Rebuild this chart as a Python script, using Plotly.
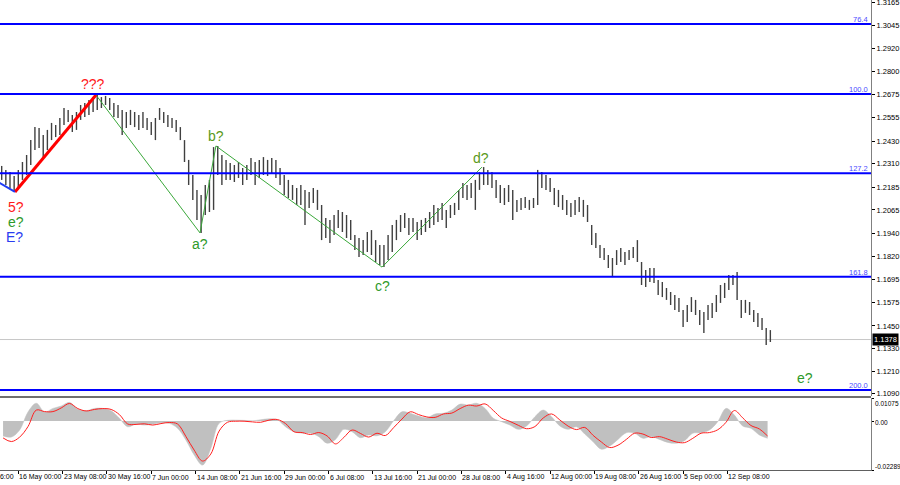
import plotly.graph_objects as go

# ---------------- data ----------------
# x unit = H4 bar index, 0 = "16 May 00:00"; price bars sampled every 3 H4 bars
bar_start = -12
bar_step = 3
bar_high = [1.2298, 1.2277, 1.2266, 1.2245, 1.2277, 1.2319, 1.2356, 1.2435, 1.2504, 1.2499,
            1.2462, 1.2489, 1.2526, 1.2515, 1.2552, 1.2605, 1.2595, 1.2568, 1.2584, 1.2621,
            1.2632, 1.2648, 1.2663, 1.2674, 1.2663, 1.2669, 1.2658, 1.2632, 1.2621, 1.2595,
            1.2584, 1.2595, 1.2584, 1.2568, 1.2584, 1.2552, 1.2531, 1.2552, 1.2605, 1.2584,
            1.2568, 1.2552, 1.2542, 1.2504, 1.2435, 1.2330, 1.2250, 1.2171, 1.2144, 1.2197,
            1.2224, 1.2398, 1.2404, 1.2356, 1.2330, 1.2314, 1.2303, 1.2319, 1.2287, 1.2303,
            1.2340, 1.2319, 1.2330, 1.2345, 1.2330, 1.2340, 1.2330, 1.2287, 1.2250, 1.2224,
            1.2197, 1.2181, 1.2197, 1.2171, 1.2160, 1.2181, 1.2171, 1.2091, 1.2022, 1.2012,
            1.2038, 1.2065, 1.2054, 1.2038, 1.2012, 1.1932, 1.1916, 1.1905, 1.1948, 1.1958,
            1.1905, 1.1879, 1.1879, 1.1932, 1.1985, 1.2012, 1.2038, 1.2049, 1.2022, 1.2022,
            1.2001, 1.2012, 1.2022, 1.2054, 1.2091, 1.2075, 1.2102, 1.2065, 1.2091, 1.2102,
            1.2171, 1.2208, 1.2197, 1.2208, 1.2224, 1.2266, 1.2292, 1.2277, 1.2266, 1.2224,
            1.2197, 1.2181, 1.2197, 1.2171, 1.2118, 1.2128, 1.2133, 1.2118, 1.2128, 1.2277,
            1.2266, 1.2250, 1.2234, 1.2181, 1.2171, 1.2144, 1.2118, 1.2102, 1.2118, 1.2133,
            1.2118, 1.2091, 1.1985, 1.1943, 1.1879, 1.1863, 1.1826, 1.1810, 1.1852, 1.1863,
            1.1842, 1.1852, 1.1868, 1.1905, 1.1789, 1.1747, 1.1757, 1.1757, 1.1693, 1.1683,
            1.1651, 1.1630, 1.1614, 1.1598, 1.1535, 1.1561, 1.1603, 1.1588, 1.1535, 1.1524,
            1.1561, 1.1572, 1.1614, 1.1667, 1.1678, 1.1720, 1.1720, 1.1736, 1.1588, 1.1588,
            1.1577, 1.1535, 1.1519, 1.1492, 1.1439, 1.1428]
bar_low = [1.2224, 1.2197, 1.2181, 1.2160, 1.2181, 1.2224, 1.2250, 1.2303, 1.2382, 1.2393,
           1.2345, 1.2382, 1.2435, 1.2451, 1.2462, 1.2515, 1.2531, 1.2478, 1.2489, 1.2542,
           1.2557, 1.2568, 1.2584, 1.2595, 1.2605, 1.2621, 1.2595, 1.2557, 1.2552, 1.2462,
           1.2499, 1.2515, 1.2504, 1.2489, 1.2499, 1.2489, 1.2462, 1.2435, 1.2542, 1.2526,
           1.2504, 1.2499, 1.2478, 1.2435, 1.2319, 1.2197, 1.2118, 1.2012, 1.1943, 1.2038,
           1.2054, 1.2065, 1.2250, 1.2197, 1.2224, 1.2224, 1.2213, 1.2234, 1.2197, 1.2224,
           1.2250, 1.2197, 1.2234, 1.2250, 1.2245, 1.2255, 1.2234, 1.2197, 1.2144, 1.2128,
           1.2118, 1.2091, 1.2091, 1.1985, 1.2075, 1.2102, 1.2065, 1.1905, 1.1916, 1.1890,
           1.1932, 1.1969, 1.1948, 1.1916, 1.1905, 1.1852, 1.1815, 1.1826, 1.1842, 1.1826,
           1.1789, 1.1773, 1.1762, 1.1800, 1.1842, 1.1905, 1.1948, 1.1969, 1.1932, 1.1948,
           1.1905, 1.1932, 1.1948, 1.1969, 1.1985, 1.2001, 1.2012, 1.1969, 1.2022, 1.2038,
           1.2065, 1.2128, 1.2118, 1.2128, 1.2065, 1.2171, 1.2197, 1.2197, 1.2181, 1.2128,
           1.2102, 1.2091, 1.2107, 1.2012, 1.2054, 1.2065, 1.2075, 1.2065, 1.2075, 1.2091,
           1.2181, 1.2171, 1.2160, 1.2091, 1.2080, 1.2065, 1.2038, 1.2028, 1.2038, 1.2054,
           1.2028, 1.2001, 1.1879, 1.1863, 1.1810, 1.1800, 1.1757, 1.1709, 1.1773, 1.1789,
           1.1773, 1.1800, 1.1810, 1.1789, 1.1667, 1.1656, 1.1683, 1.1678, 1.1614, 1.1603,
           1.1588, 1.1561, 1.1535, 1.1524, 1.1444, 1.1471, 1.1524, 1.1508, 1.1455, 1.1413,
           1.1482, 1.1492, 1.1524, 1.1572, 1.1598, 1.1640, 1.1667, 1.1588, 1.1492, 1.1519,
           1.1508, 1.1471, 1.1444, 1.1428, 1.1349, 1.1365]

# MACD, sampled every 6 H4 bars
macd_start = -11
macd_step = 6
macd_hist = [-0.0070, -0.0075, -0.0042, 0.0042, 0.0083, 0.0042, 0.0059, 0.0070, 0.0087, 0.0055,
             0.0048, 0.0059, 0.0059, 0.0048, 0.0013, -0.0027, -0.0014, -0.0019, -0.0015, -0.0008,
             -0.0011, -0.0034, -0.0089, -0.0159, -0.0206, -0.0128, -0.0011, 0.0003, 0.0004, 0.0003,
             0.0001, 0.0006, 0.0010, 0.0006, -0.0027, -0.0050, -0.0057, -0.0057, -0.0073, -0.0104,
             -0.0086, -0.0039, -0.0050, -0.0078, -0.0065, -0.0069, -0.0050, 0.0001, 0.0043, 0.0036,
             0.0023, 0.0015, 0.0033, 0.0036, 0.0051, 0.0079, 0.0075, 0.0083, 0.0059, 0.0013,
             -0.0003, -0.0019, -0.0039, -0.0023, 0.0020, 0.0051, 0.0020, -0.0023, -0.0039, -0.0027,
             -0.0061, -0.0097, -0.0132, -0.0117, -0.0086, -0.0055, -0.0057, -0.0081, -0.0073, -0.0086,
             -0.0100, -0.0104, -0.0092, -0.0057, -0.0055, -0.0042, -0.0003, 0.0059, 0.0028, -0.0023,
             -0.0034, -0.0065, -0.0081]
macd_signal = [-0.0079, -0.0096, -0.0075, -0.0026, 0.0051, 0.0044, 0.0044, 0.0061, 0.0082, 0.0058,
               0.0047, 0.0054, 0.0058, 0.0054, 0.0030, -0.0014, -0.0016, -0.0013, -0.0019, -0.0012,
               -0.0007, -0.0014, -0.0072, -0.0136, -0.0187, -0.0154, -0.0047, -0.0006, -0.0001, -0.0001,
               -0.0004, -0.0006, 0.0004, 0.0007, -0.0012, -0.0050, -0.0054, -0.0063, -0.0054, -0.0070,
               -0.0107, -0.0077, -0.0042, -0.0058, -0.0075, -0.0057, -0.0068, -0.0031, 0.0009, 0.0043,
               0.0030, 0.0019, 0.0017, 0.0033, 0.0037, 0.0058, 0.0074, 0.0070, 0.0080, 0.0049,
               0.0014, -0.0002, -0.0020, -0.0036, -0.0026, 0.0014, 0.0033, 0.0005, -0.0024, -0.0040,
               -0.0030, -0.0067, -0.0098, -0.0124, -0.0113, -0.0086, -0.0057, -0.0061, -0.0077, -0.0073,
               -0.0085, -0.0098, -0.0101, -0.0081, -0.0057, -0.0054, -0.0041, -0.0006, 0.0049, 0.0015,
               -0.0021, -0.0037, -0.0070]

fib_labels = ["76.4", "100.0", "127.2", "161.8", "200.0"]
fib_prices = [1.3050, 1.2679, 1.2259, 1.1711, 1.1111]

last_price = 1.1378

price_ticks = [1.3165, 1.3045, 1.2920, 1.2800, 1.2675, 1.2555, 1.2430, 1.2310, 1.2185,
               1.2065, 1.1940, 1.1820, 1.1695, 1.1575, 1.1450, 1.1330, 1.1210, 1.1090]
macd_ticks = [0.01075, 0.0, -0.02289]
macd_tick_labels = ["0.01075", "0.00", "-0.02289"]

time_tick_bars = [-32, 0, 32, 64, 96, 128, 160, 192, 224, 256, 288, 320, 352, 384, 416, 448, 480, 512]
time_tick_labels = ["9 May 16:00", "16 May 00:00", "23 May 08:00", "30 May 16:00", "7 Jun 00:00",
                    "14 Jun 08:00", "21 Jun 16:00", "29 Jun 00:00", "6 Jul 08:00", "13 Jul 16:00",
                    "21 Jul 00:00", "28 Jul 08:00", "4 Aug 16:00", "12 Aug 00:00", "19 Aug 08:00",
                    "26 Aug 16:00", "5 Sep 00:00", "12 Sep 08:00"]

# wave pivots (bar index, price)
wave_blue_x = [-20, -2.4]
wave_blue_y = [1.2237, 1.2160]
wave_red_x = [-2.4, 56.1]
wave_red_y = [1.2160, 1.2674]
wave_green_x = [56.1, 131.2, 142.7, 262.6, 334.8]
wave_green_y = [1.2674, 1.1943, 1.2404, 1.1762, 1.2292]

wave_labels = ["???", "5?", "e?", "E?", "a?", "b?", "c?", "d?", "e?"]
wave_label_x = [53.9, -1.7, -1.7, -2.4, 131.2, 142.7, 263.3, 334.1, 568.0]
wave_label_y = [1.2732, 1.2080, 1.2001, 1.1921, 1.1884, 1.2457, 1.1662, 1.2340, 1.1174]
wave_label_colors = ["#ff1a1a", "#ff1a1a", "#2f9a2a", "#2a3cf0", "#2f9a2a", "#5a9a1a",
                     "#2f9a2a", "#5a9a1a", "#2f9a2a"]

# ---------------- figure ----------------
W, H = 900, 485
X_RANGE = [-13.21, 615.67]
XDOM = [0, 871 / W]
MAIN_DOM = [1 - 396 / H, 1]
MACD_DOM = [1 - 470 / H, 1 - 398 / H]
FONT = "Liberation Sans, Arial, sans-serif"


def bar_to_paper(b):
    return XDOM[0] + (b - X_RANGE[0]) / (X_RANGE[1] - X_RANGE[0]) * (XDOM[1] - XDOM[0])


fig = go.Figure()

# price bars (vertical high-low strokes)
bx, by = [], []
for k, (h, l) in enumerate(zip(bar_high, bar_low)):
    xi = bar_start + bar_step * k
    bx += [xi, xi, None]
    by += [l, h, None]
fig.add_trace(go.Scatter(x=bx, y=by, mode="lines", line=dict(color="#404040", width=1.4),
                         hoverinfo="skip", showlegend=False, xaxis="x", yaxis="y"))

# wave lines
fig.add_trace(go.Scatter(x=wave_green_x, y=wave_green_y, mode="lines",
                         line=dict(color="#3aa83a", width=1), showlegend=False))
fig.add_trace(go.Scatter(x=wave_red_x, y=wave_red_y, mode="lines",
                         line=dict(color="#ff0000", width=3), showlegend=False))
fig.add_trace(go.Scatter(x=wave_blue_x, y=wave_blue_y, mode="lines",
                         line=dict(color="#1f3cf5", width=2), showlegend=False))

# MACD
macd_x = [macd_start + macd_step * n for n in range(len(macd_hist))]
fig.add_trace(go.Scatter(x=macd_x, y=macd_hist, mode="lines", fill="tozeroy", fillcolor="#c0c0c0",
                         line=dict(color="#c0c0c0", width=0.5, shape="spline"),
                         showlegend=False, xaxis="x2", yaxis="y2"))
fig.add_trace(go.Scatter(x=macd_x, y=macd_signal, mode="lines", line=dict(color="#ff2020", width=1, shape="spline"),
                         showlegend=False, xaxis="x2", yaxis="y2"))

shapes = []
# fib lines
for p in fib_prices:
    shapes.append(dict(type="line", xref="paper", yref="y", x0=0, x1=XDOM[1], y0=p, y1=p,
                       line=dict(color="#0000ff", width=2)))
# last price line
shapes.append(dict(type="line", xref="paper", yref="y", x0=0, x1=XDOM[1], y0=last_price, y1=last_price,
                   line=dict(color="#c8c8c8", width=1), layer="below"))
# panel separator
shapes.append(dict(type="line", xref="paper", yref="paper", x0=0, x1=XDOM[1],
                   y0=1 - 397 / H, y1=1 - 397 / H, line=dict(color="#707070", width=2)))

annotations = []
for lab, p in zip(fib_labels, fib_prices):
    annotations.append(dict(x=XDOM[1] - 1 / W, y=p, xref="paper", yref="y", text=lab, showarrow=False,
                            xanchor="right", yanchor="bottom", yshift=-2,
                            font=dict(family=FONT, size=7.5, color="#4a4aff")))
for lab, xv, yv, c in zip(wave_labels, wave_label_x, wave_label_y, wave_label_colors):
    annotations.append(dict(x=xv, y=yv, xref="x", yref="y", text=lab, showarrow=False,
                            xanchor="center", yanchor="middle",
                            font=dict(family=FONT, size=14, color=c)))
# last price box
annotations.append(dict(x=XDOM[1] + 1 / W, y=last_price, xref="paper", yref="y", text=str(last_price),
                        showarrow=False, xanchor="left", yanchor="middle", bgcolor="#000000",
                        borderpad=1, font=dict(family=FONT, size=7.5, color="#ffffff")))
# time labels (left-aligned at their tick, in paper coords so the clipped first one still shows)
for tb, lab in zip(time_tick_bars, time_tick_labels):
    annotations.append(dict(x=bar_to_paper(tb), y=1 - 477 / H, xref="paper", yref="paper", text=lab,
                            showarrow=False, xanchor="left", yanchor="middle", xshift=-1,
                            font=dict(family=FONT, size=7, color="#000000")))
# MACD labels
macd_label_px = [403, 422, 466]
for lab, py in zip(macd_tick_labels, macd_label_px):
    annotations.append(dict(x=XDOM[1] + 1.5 / W, y=1 - py / H, xref="paper", yref="paper", text=lab,
                            showarrow=False, xanchor="left", yanchor="middle",
                            font=dict(family=FONT, size=6.5, color="#000000")))

fig.update_layout(
    width=W, height=H, margin=dict(l=0, r=0, t=0, b=0),
    paper_bgcolor="#ffffff", plot_bgcolor="#ffffff",
    showlegend=False,
    xaxis=dict(domain=XDOM, range=X_RANGE, anchor="y", showticklabels=False, showgrid=False,
               zeroline=False, ticks="", showline=False),
    yaxis=dict(domain=MAIN_DOM, range=[1.10787, 1.31775], side="right", anchor="x",
               tickvals=price_ticks, tickformat=".4f", ticks="outside", ticklen=3,
               tickcolor="#000000", showline=True, linecolor="#808080", linewidth=1,
               showgrid=False, zeroline=False, automargin=False, ticklabeloverflow="allow",
               tickfont=dict(family=FONT, size=7.5, color="#000000")),
    xaxis2=dict(domain=XDOM, range=X_RANGE, anchor="y2", tickvals=time_tick_bars, ticks="outside",
                ticklen=3, tickcolor="#000000", showticklabels=False, showgrid=False, zeroline=False,
                showline=True, linecolor="#606060", linewidth=1),
    yaxis2=dict(domain=MACD_DOM, range=[-0.02289, 0.01075], side="right", anchor="x2",
                tickvals=macd_ticks, ticks="outside", ticklen=2, tickcolor="#000000",
                showticklabels=False, showline=True, linecolor="#808080", linewidth=1,
                showgrid=False, zeroline=False, automargin=False),
    shapes=shapes, annotations=annotations,
)

fig.write_html("out.html", config={"displayModeBar": False},
               post_script="document.body.style.margin='0';document.body.style.overflow='hidden';")
